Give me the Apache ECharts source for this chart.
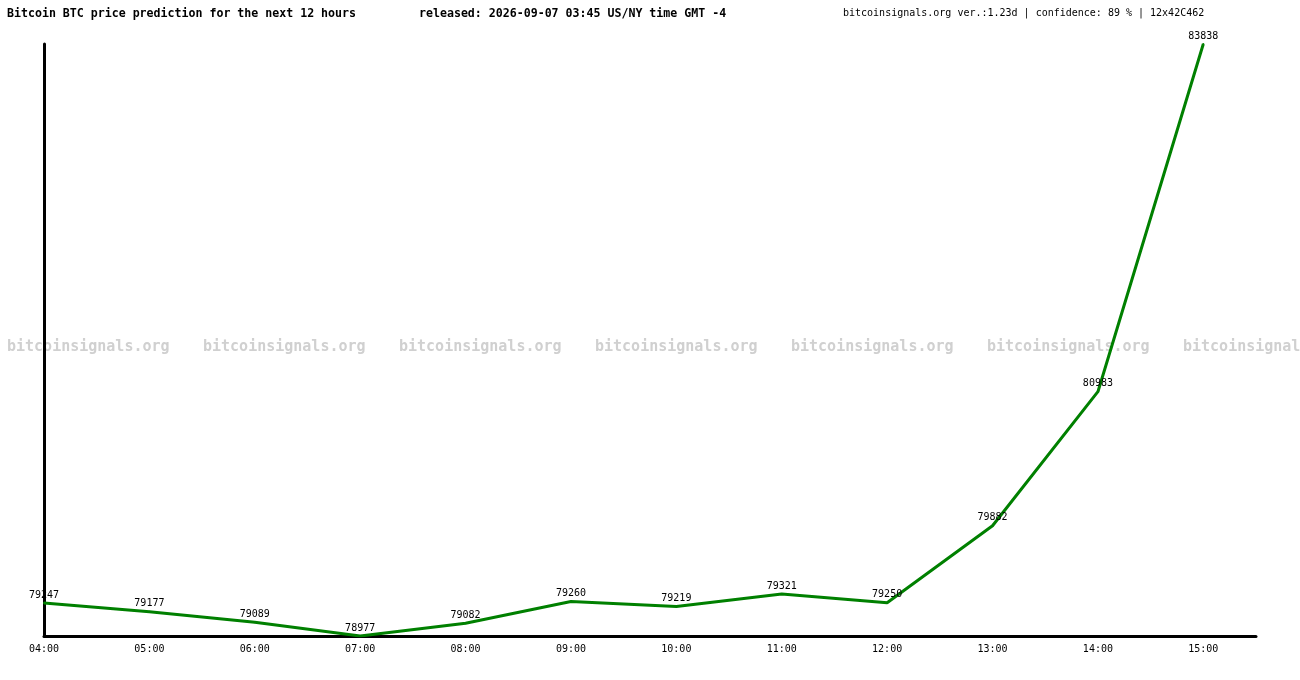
<!DOCTYPE html>
<html><head><meta charset="utf-8">
<script src="https://cdn.jsdelivr.net/npm/echarts@6/dist/echarts.min.js"></script>
<style>html,body{margin:0;background:#fff}#c{width:1300px;height:680px}</style>
</head><body><div id="c"></div>
<script>
const hours = ['04:00','05:00','06:00','07:00','08:00','09:00','10:00','11:00','12:00','13:00','14:00','15:00'];
const prices = [79247, 79177, 79089, 78977, 79082, 79260, 79219, 79321, 79250, 79882, 80983, 83838];
const watermark = 'bitcoinsignals.org';

const font = '"DejaVu Sans Mono", monospace';
const marks = [];
for (let i = 0; i < 7; i++) {
  marks.push({ type: 'text', left: 7 + i * 196, top: 340, silent: true,
    style: { text: watermark, font: 'bold 15px ' + font, fill: '#d0d0d0' } });
}
marks.push({ type: 'text', left: 7, top: 8, style: { text: 'Bitcoin BTC price prediction for the next 12 hours', font: 'bold 11.6px ' + font, fill: '#000' } });
marks.push({ type: 'text', left: 419, top: 8, style: { text: 'released: 2026-09-07 03:45 US/NY time GMT -4', font: 'bold 11.6px ' + font, fill: '#000' } });
marks.push({ type: 'text', left: 843, top: 8, style: { text: 'bitcoinsignals.org ver.:1.23d | confidence: 89 % | 12x42C462', font: '10px ' + font, fill: '#000' } });

const chart = echarts.init(document.getElementById('c'));
chart.setOption({
  animation: false,
  graphic: marks,
  grid: { left: 44, right: 44, top: 44, bottom: 44 },
  xAxis: {
    type: 'value', min: 0, max: 11.5, interval: 1,
    axisLine: { lineStyle: { color: '#000', width: 3 } },
    axisTick: { show: false }, splitLine: { show: false },
    axisLabel: { showMaxLabel: false, color: '#000', fontFamily: font, fontSize: 10, margin: 8,
      formatter: v => hours[v] || '' }
  },
  yAxis: {
    type: 'value', min: 78977, max: 83838,
    axisLine: { show: true, lineStyle: { color: '#000', width: 3 } },
    axisTick: { show: false }, axisLabel: { show: false }, splitLine: { show: false }
  },
  series: [{
    type: 'line', data: prices.map((p, i) => [i, p]),
    symbol: 'circle', symbolSize: 2, showSymbol: true,
    itemStyle: { color: '#008000' },
    lineStyle: { color: '#008000', width: 3 },
    label: { show: true, position: 'top', distance: 2, color: '#000', fontFamily: font, fontSize: 10,
      formatter: p => String(p.value[1]) }
  }]
});
</script></body></html>
